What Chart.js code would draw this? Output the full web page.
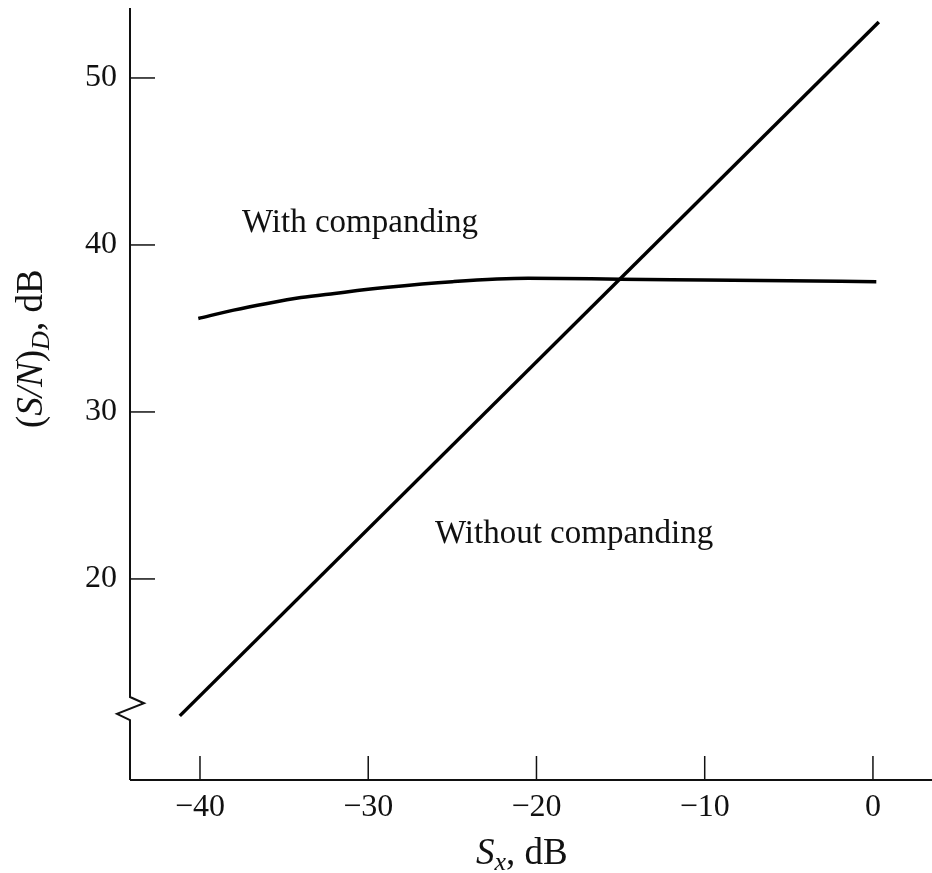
<!DOCTYPE html>
<html>
<head>
<meta charset="utf-8">
<script src="https://cdn.jsdelivr.net/npm/chart.js@4/dist/chart.umd.min.js"></script>
<style>
  html, body { margin: 0; padding: 0; background: #fff; }
  #wrap { width: 932px; height: 873px; }
</style>
</head>
<body>
<div id="wrap"><canvas id="c" width="932" height="873"></canvas></div>
<script>
// ---- data ----
const withCompandingX = [-40.1, -38, -36, -34, -32, -29, -25, -20.5, -15, -10, -5, 0.2];
const withCompandingY = [35.6, 36.1, 36.5, 36.85, 37.1, 37.45, 37.8, 38.0, 37.95, 37.9, 37.85, 37.8];
const withoutCompandingX = [-41.2, 0.35];
const withoutCompandingY = [11.8, 53.35];
const xTickValues = [-40, -30, -20, -10, 0];
const yTickValues = [20, 30, 40, 50];
const labelWith = "With companding";
const labelWithout = "Without companding";
const yAxisBreak = [11.55, 12.93];

const toPts = (xs, ys) => xs.map((x, i) => ({ x: x, y: ys[i] }));
const SERIF = '"Liberation Serif", "DejaVu Serif", serif';

const axesPlugin = {
  id: 'customAxes',
  afterDraw(chart) {
    const ctx = chart.ctx;
    const xs = chart.scales.x, ys = chart.scales.y;
    const left = xs.left, bottom = ys.bottom, top = ys.top, right = xs.right;
    ctx.save();
    ctx.strokeStyle = '#111';
    ctx.lineWidth = 2;
    ctx.lineCap = 'butt';
    // y axis with break
    const bTop = ys.getPixelForValue(yAxisBreak[1]);
    const bBot = ys.getPixelForValue(yAxisBreak[0]);
    const h = bBot - bTop;
    ctx.beginPath();
    ctx.moveTo(left, top);
    ctx.lineTo(left, bTop);
    ctx.lineTo(left + 14, bTop + h * 0.27);
    ctx.lineTo(left - 13, bTop + h * 0.73);
    ctx.lineTo(left, bBot);
    ctx.lineTo(left, bottom);
    ctx.stroke();
    // x axis
    ctx.beginPath();
    ctx.moveTo(left, bottom);
    ctx.lineTo(right, bottom);
    ctx.stroke();
    // ticks (inward)
    ctx.lineWidth = 1.5;
    yTickValues.forEach(v => {
      const p = ys.getPixelForValue(v);
      ctx.beginPath(); ctx.moveTo(left, p); ctx.lineTo(left + 25, p); ctx.stroke();
    });
    xTickValues.forEach(v => {
      const p = xs.getPixelForValue(v);
      ctx.beginPath(); ctx.moveTo(p, bottom); ctx.lineTo(p, bottom - 24); ctx.stroke();
    });
    // annotations
    ctx.fillStyle = '#111';
    ctx.font = '33px ' + SERIF;
    ctx.textAlign = 'left';
    ctx.textBaseline = 'alphabetic';
    ctx.fillText(labelWith, 242, 232);
    ctx.fillText(labelWithout, 435, 543);

    // x title: S_x, dB
    let x0 = 476, base = 864;
    ctx.font = 'italic 37px ' + SERIF;
    ctx.fillText('S', x0, base);
    x0 += ctx.measureText('S').width;
    ctx.font = 'italic 26px ' + SERIF;
    ctx.fillText('x', x0, base + 6);
    x0 += ctx.measureText('x').width;
    ctx.font = '37px ' + SERIF;
    ctx.fillText(', dB', x0, base);

    // y title: (S/N)_D, dB rotated
    ctx.translate(42, 428);
    ctx.rotate(-Math.PI / 2);
    let yx = 0;
    ctx.font = '37px ' + SERIF;
    ctx.fillText('(', yx, 0); yx += ctx.measureText('(').width;
    ctx.font = 'italic 37px ' + SERIF;
    ctx.fillText('S/N', yx, 0); yx += ctx.measureText('S/N').width;
    ctx.font = '37px ' + SERIF;
    ctx.fillText(')', yx, 0); yx += ctx.measureText(')').width;
    ctx.font = 'italic 26px ' + SERIF;
    ctx.fillText('D', yx, 7); yx += ctx.measureText('D').width;
    ctx.font = '37px ' + SERIF;
    ctx.fillText(', dB', yx, 0);
    ctx.restore();
  }
};

new Chart(document.getElementById('c'), {
  type: 'scatter',
  data: {
    datasets: [
      {
        label: labelWith,
        data: toPts(withCompandingX, withCompandingY),
        showLine: true,
        borderColor: '#000',
        borderWidth: 3.5,
        pointRadius: 0,
        cubicInterpolationMode: 'monotone',
        fill: false
      },
      {
        label: labelWithout,
        data: toPts(withoutCompandingX, withoutCompandingY),
        showLine: true,
        borderColor: '#000',
        borderWidth: 3.5,
        pointRadius: 0,
        fill: false
      }
    ]
  },
  options: {
    responsive: false,
    animation: false,
    devicePixelRatio: 1,
    layout: { padding: { top: 8, right: 0, left: 0, bottom: 0 } },
    plugins: { legend: { display: false }, tooltip: { enabled: false } },
    scales: {
      x: {
        type: 'linear',
        min: -44.16,
        max: 3.51,
        afterBuildTicks: s => { s.ticks = xTickValues.map(v => ({ value: v })); },
        afterFit: s => { s.height = 93; s.paddingLeft = 0; s.paddingRight = 0; },
        grid: { display: false, drawTicks: false },
        border: { display: false },
        ticks: {
          color: '#111',
          padding: 8,
          font: { family: SERIF, size: 32 },
          callback: v => (v < 0 ? '\u2212' + Math.abs(v) : String(v))
        }
      },
      y: {
        type: 'linear',
        min: 7.96,
        max: 54.19,
        afterBuildTicks: s => { s.ticks = yTickValues.map(v => ({ value: v })); },
        afterFit: s => { s.width = 130; s.paddingTop = 0; s.paddingBottom = 0; },
        grid: { display: false, drawTicks: false },
        border: { display: false },
        ticks: {
          color: '#111',
          padding: 13,
          font: { family: SERIF, size: 32 },
          callback: v => String(v)
        }
      }
    }
  },
  plugins: [axesPlugin]
});
</script>
</body>
</html>
